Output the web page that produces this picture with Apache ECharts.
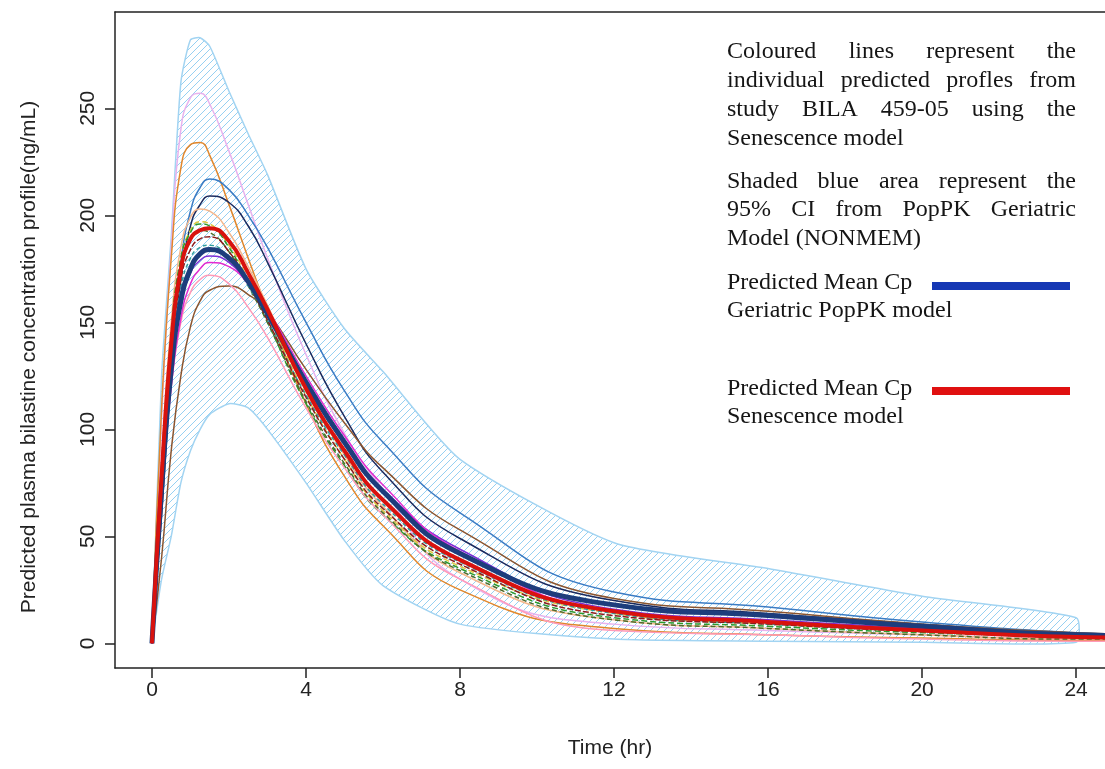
<!DOCTYPE html>
<html><head><meta charset="utf-8">
<script src="https://cdn.jsdelivr.net/npm/echarts@6/dist/echarts.min.js"></script>
<style>html,body{margin:0;padding:0;background:#fff}#c{width:1105px;height:769px}</style>
</head><body><div id="c"></div>
<script>
const times = [0,0.25,0.5,0.75,1,1.25,1.5,2,2.5,3,4,5,6,8,12,16,20,24,26];
const bandTimes = [0,0.25,0.5,0.75,1,1.25,1.5,2,2.5,3,4,5,6,8,12,16,20,24];
const bandUpper = [0,125,190,262,282,283,279,258,238,219,175,147,127,86,47,35,22,12];
const bandLower = [0,30,50,75,90,100,107,112,110,100,75,48,27,9,2,1,0.5,0.5];
const xTicks = [0,4,8,12,16,20,24];
const yTicks = [0,50,100,150,200,250];
const xTitle = 'Time (hr)';
const yTitle = 'Predicted plasma bilastine concentration profile(ng/mL)';

const violetLine   = [0,105,185,240,255,257,252,230,205,180,135,98,72,30,9,6,4,2,2];
const orangeLine   = [0,110,180,222,233,234,228,205,180,156,112,78,55,25,7,4,2.5,1.5,1.5];
const steelLine    = [0,70,135,178,202,213,217,212,200,185,150,118,94,61,24,17,10,5,4];
const navyLine     = [0,60,125,170,195,205,209,206,195,178,140,106,80,49,20,14,9,4,3.5];
const peachLine    = [0,85,150,185,199,203,202,192,176,158,120,88,64,33,11,7,4,2,2];
const yellowLine   = [0,80,145,180,193,197,196,186,170,153,116,86,62,36,14,9,6,3,2.5];
const greenLine    = [0,78,145,180,192,196,195,185,168,150,112,83,60,35,12,8,5,3,2];
const brownLine    = [0,40,90,125,148,160,165,167,163,155,128,103,82,53,21,15,9,5,4];
const magentaLine  = [0,70,120,152,168,175,178,176,168,156,125,97,74,43,15,10,6,3,2.5];
const purpleLine   = [0,72,125,158,173,179,181,178,168,155,123,95,72,44,16,11,7,3.5,3];
const darkredLine  = [0,75,135,170,184,189,190,183,168,151,115,86,63,37,13,9,5.5,3,2.5];
const pinkLine     = [0,70,120,150,164,170,172,168,157,143,110,82,60,30,6,4,2,1,1];
const dkgreenLine  = [0,75,140,175,188,193,192,183,167,150,113,84,61,34,11,7,4,2,2];
const tealLine     = [0,72,132,166,180,185,186,180,167,151,116,88,65,38,14,9,6,3,2.5];
const meanGeriatric  = [0,72,128,160,175,182,184,180,169,154,122,94,71,42,18,13,8,4,3.5];
const meanSenescence = [0,78,140,175,189,193,194,188,173,156,119,90,67,39,15,10,6,3,2.5];

const individuals = [
  {name:'violet', data:violetLine, color:'#e8b2ee', type:'solid'},
  {name:'orange', data:orangeLine, color:'#e0872c', type:'solid'},
  {name:'steel', data:steelLine, color:'#3b7cc4', type:'solid'},
  {name:'navy', data:navyLine, color:'#1b2a5e', type:'solid'},
  {name:'peach', data:peachLine, color:'#f4b78c', type:'solid'},
  {name:'yellow', data:yellowLine, color:'#ddc83e', type:[6,3]},
  {name:'green', data:greenLine, color:'#2e9a2e', type:[6,3]},
  {name:'brown', data:brownLine, color:'#8a5530', type:'solid'},
  {name:'pink', data:pinkLine, color:'#ff9ab8', type:'solid'},
  {name:'dkgreen', data:dkgreenLine, color:'#4f6b2a', type:[5,3]},
  {name:'teal', data:tealLine, color:'#2f9e9e', type:[4,3]},
  {name:'darkred', data:darkredLine, color:'#8b1c1c', type:[6,2]},
  {name:'purple', data:purpleLine, color:'#7b2fd6', type:'solid'},
  {name:'magenta', data:magentaLine, color:'#e22ad0', type:'solid'}
];

const legendPara1 = ['Coloured lines represent the','individual predicted profles from','study BILA 459-05 using the','Senescence model'];
const legendPara2 = ['Shaded blue area represent the','95% CI from PopPK Geriatric','Model (NONMEM)'];
const legendGer = ['Predicted Mean Cp','Geriatric PopPK model'];
const legendSen = ['Predicted Mean Cp','Senescence model'];

// hatch pattern
const pc = document.createElement('canvas');
pc.width = 7; pc.height = 7;
const px = pc.getContext('2d');
px.strokeStyle = '#96d0f2'; px.lineWidth = 1;
px.beginPath();
px.moveTo(-1,8); px.lineTo(8,-1);
px.moveTo(-1,1); px.lineTo(1,-1);
px.moveTo(6,8); px.lineTo(8,6);
px.stroke();

const chart = echarts.init(document.getElementById('c'), null, {renderer:'canvas'});

const series = [];
series.push({
  type:'custom', coordinateSystem:'cartesian2d', data:[[0,0]], silent:true, z:1,
  renderItem:function(params, api){
    const pts = [];
    for (let i=0;i<bandTimes.length;i++) pts.push(api.coord([bandTimes[i], bandUpper[i]]));
    for (let i=bandTimes.length-1;i>=0;i--) pts.push(api.coord([bandTimes[i], bandLower[i]]));
    return {type:'polygon', shape:{points:pts, smooth:0.2},
      style:{fill:{image:pc, repeat:'repeat'}, stroke:'#a2d4f2', lineWidth:1.5}};
  }
});
const smoothAmt = 0.5;
individuals.forEach(s=>{
  series.push({type:'line', name:s.name, data:times.map((t,i)=>[t,s.data[i]]), showSymbol:false,
    smooth:smoothAmt, z:3, silent:true,
    lineStyle:{color:s.color, width:1.5, type:s.type}});
});
series.push({type:'line', name:'meanGer', data:times.map((t,i)=>[t,meanGeriatric[i]]), showSymbol:false,
  smooth:smoothAmt, z:4, silent:true, lineStyle:{color:'#1d3d7c', width:5}});
series.push({type:'line', name:'meanSen', data:times.map((t,i)=>[t,meanSenescence[i]]), showSymbol:false,
  smooth:smoothAmt, z:5, silent:true, lineStyle:{color:'#d8120e', width:4}});

// legend text graphics, justified
const serifFont = "24px 'Liberation Serif'";
const sansFont = "'Liberation Sans',Arial,sans-serif";
const mc = document.createElement('canvas').getContext('2d');
mc.font = serifFont;
const textLeft = 727, textRight = 1076;
const graphics = [];
function addLine(str, y){
  const words = str.split(' ');
  const widths = words.map(w=>mc.measureText(w).width);
  const total = widths.reduce((a,b)=>a+b,0);
  const gap = (textRight-textLeft-total)/(words.length-1);
  let x = textLeft;
  words.forEach((w,i)=>{
    graphics.push({type:'text', x:x, y:y, style:{text:w, font:serifFont, fill:'#151515', verticalAlign:'middle', align:'left'}});
    x += widths[i]+gap;
  });
}
function addPlain(str, y){
  graphics.push({type:'text', x:textLeft, y:y, style:{text:str, font:serifFont, fill:'#151515', verticalAlign:'middle', align:'left'}});
}
const p1y = [52,81,110,139];
legendPara1.forEach((s,i)=>{ if(i<3) addLine(s,p1y[i]); else addPlain(s,p1y[i]); });
const p2y = [182,210,239];
legendPara2.forEach((s,i)=>{ if(i<2) addLine(s,p2y[i]); else addPlain(s,p2y[i]); });
addPlain(legendGer[0],283); addPlain(legendGer[1],311);
addPlain(legendSen[0],389); addPlain(legendSen[1],417);
graphics.push({type:'line', shape:{x1:932,y1:286,x2:1070,y2:286}, style:{stroke:'#1638b4', lineWidth:8}});
graphics.push({type:'line', shape:{x1:932,y1:391,x2:1070,y2:391}, style:{stroke:'#e01010', lineWidth:8}});
graphics.push({type:'text', x:29, y:357, rotation:Math.PI/2,
  style:{text:yTitle, font:"21px 'Liberation Sans'", fill:'#222', align:'center', verticalAlign:'middle'}});

chart.setOption({
  animation:false,
  backgroundColor:'#fff',
  grid:{left:115, right:0, top:12, bottom:101, containLabel:false},
  xAxis:[{
    type:'value', min:-0.96, max:24.75, position:'bottom',
    name:xTitle, nameLocation:'middle', nameGap:70,
    nameTextStyle:{fontFamily:sansFont, fontSize:21, color:'#222'},
    axisLine:{show:true, onZero:false, lineStyle:{color:'#222', width:1.5}},
    axisTick:{show:true, length:10, lineStyle:{color:'#222', width:1.5}, customValues:xTicks},
    axisLabel:{show:true, margin:12, fontFamily:sansFont, fontSize:21, color:'#222', customValues:xTicks},
    splitLine:{show:false}
  },{
    type:'value', min:-0.96, max:24.75, position:'top',
    axisLine:{show:true, onZero:false, lineStyle:{color:'#222', width:1.5}},
    axisTick:{show:false}, axisLabel:{show:false}, splitLine:{show:false}
  }],
  yAxis:[{
    type:'value', min:-11.5, max:295,
    axisLine:{show:true, onZero:false, lineStyle:{color:'#222', width:1.5}},
    axisTick:{show:true, length:10, lineStyle:{color:'#222', width:1.5}, customValues:yTicks},
    axisLabel:{show:true, rotate:90, margin:16, fontFamily:sansFont, fontSize:21, color:'#222', customValues:yTicks},
    splitLine:{show:false}
  }],
  series:series,
  graphic:graphics
});
</script></body></html>
